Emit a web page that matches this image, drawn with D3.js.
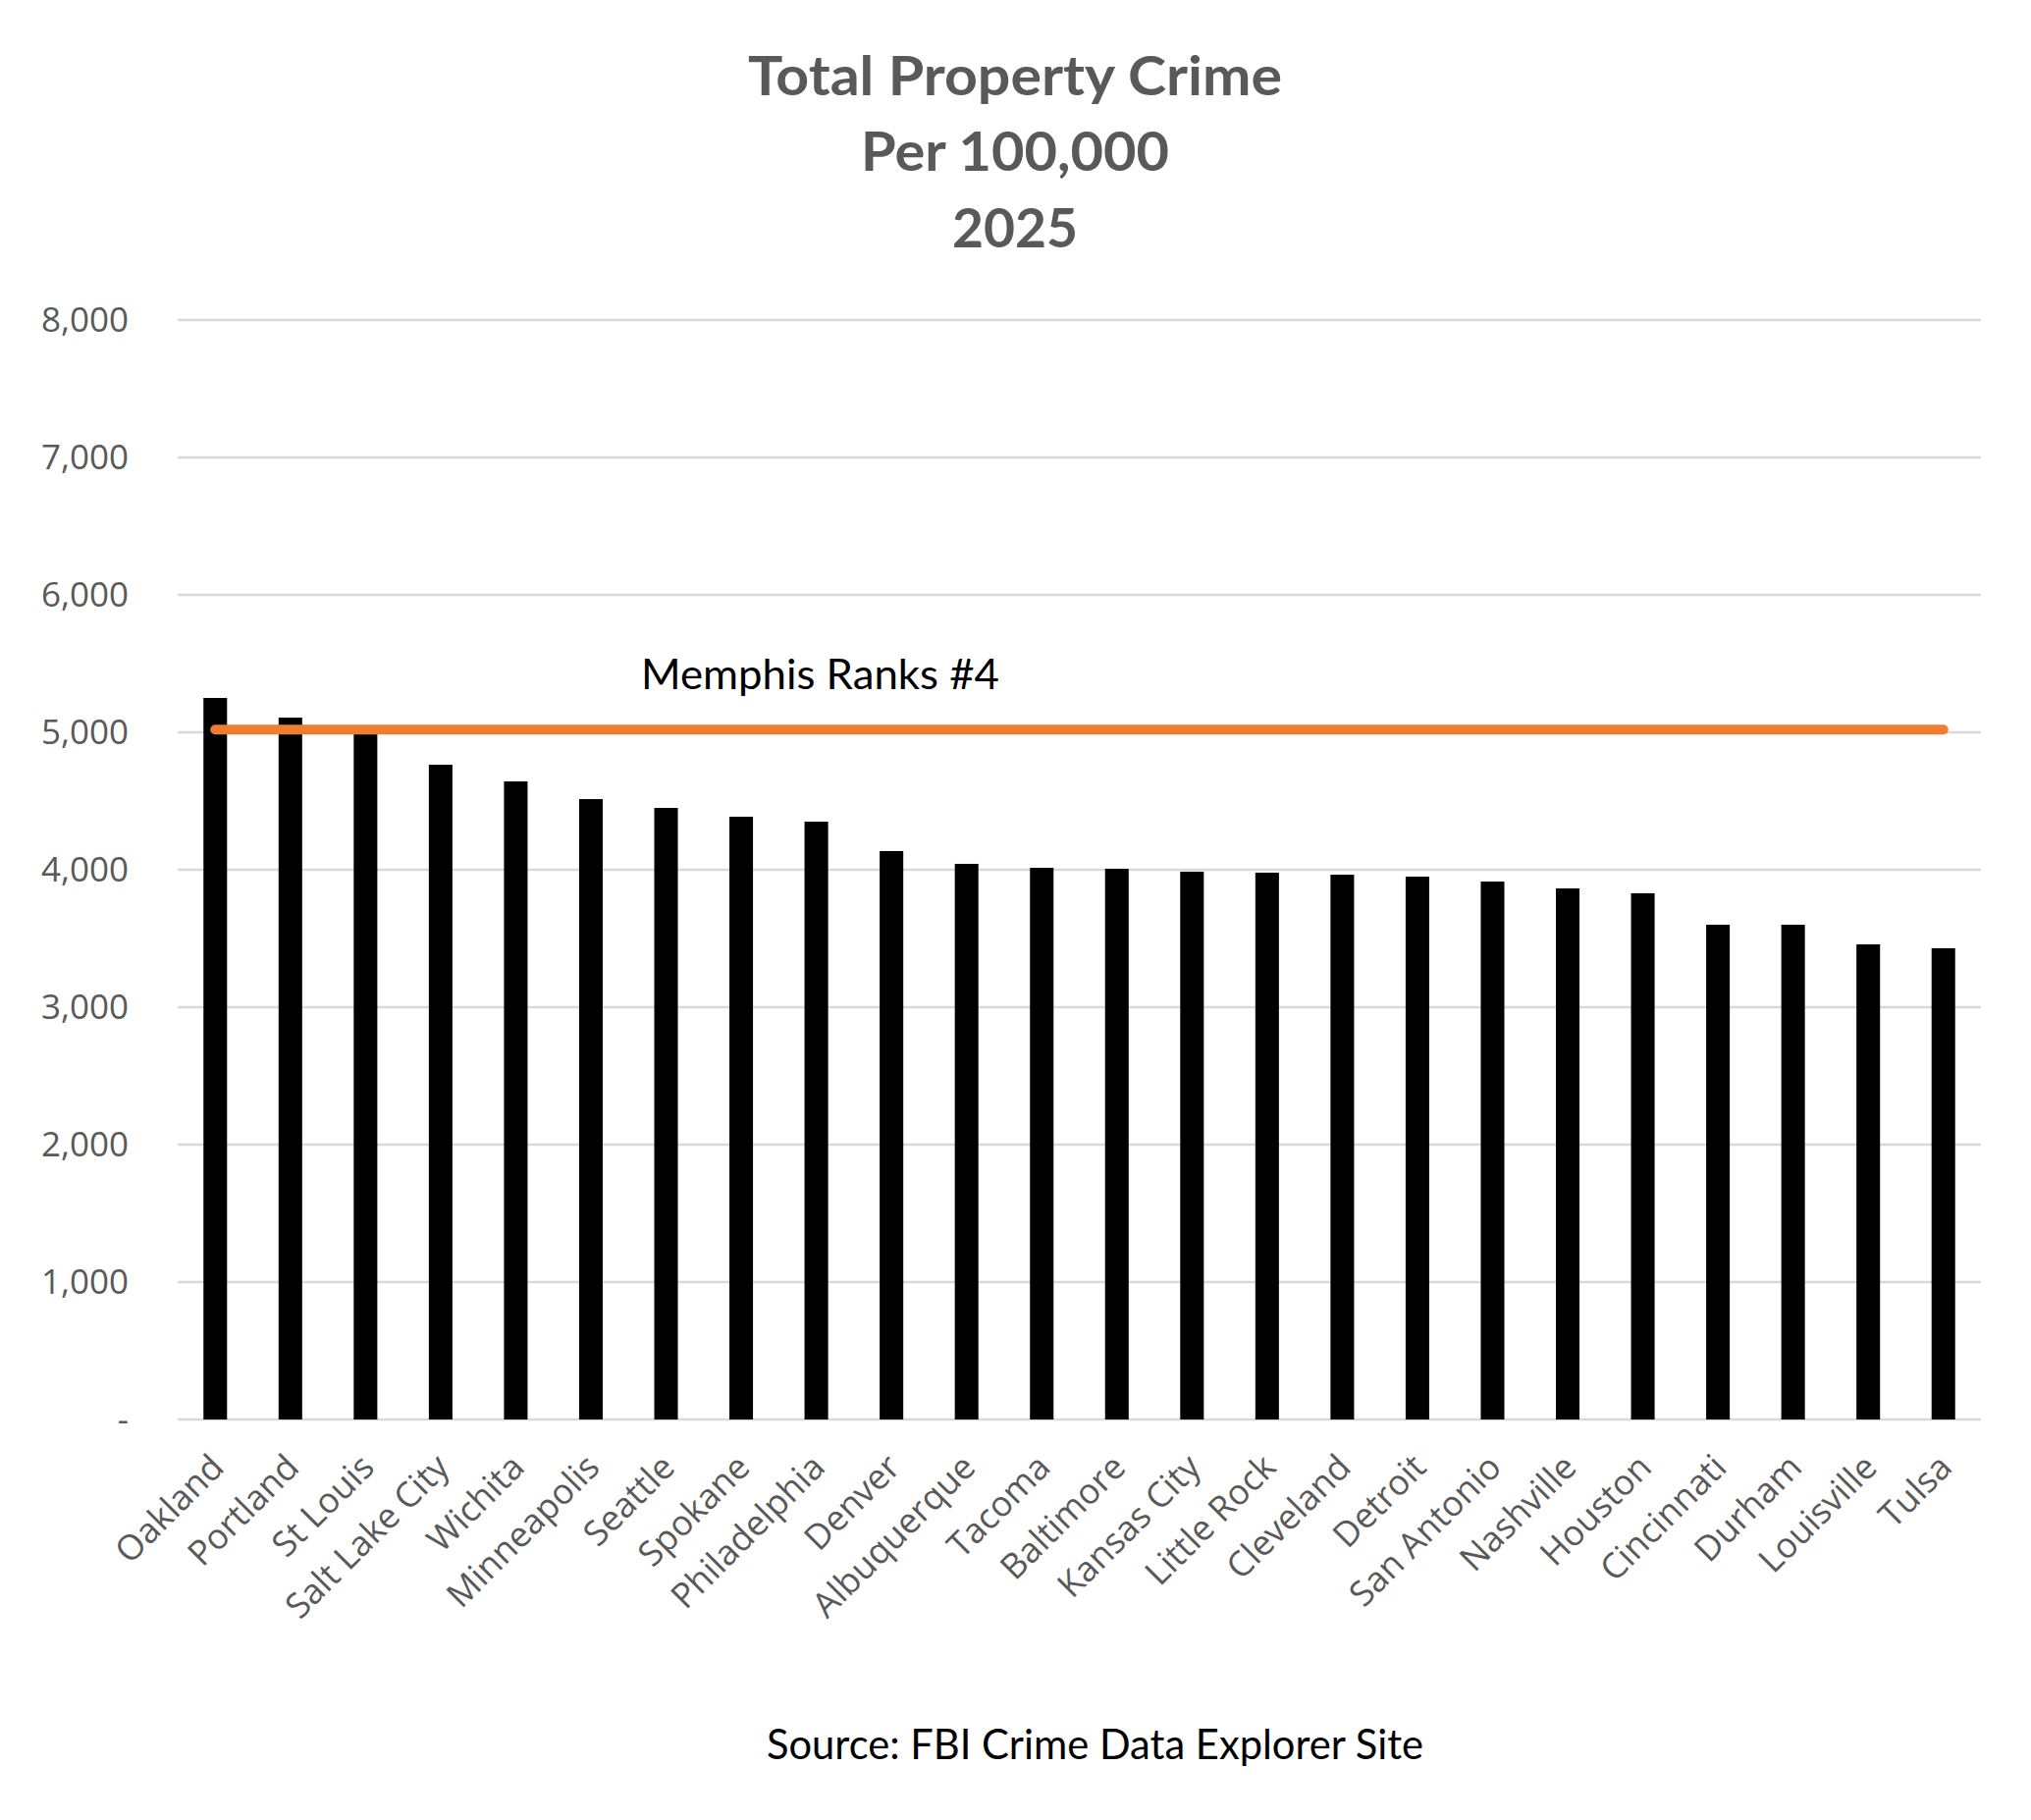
<!DOCTYPE html>
<html>
<head>
<meta charset="utf-8">
<script src="https://cdn.jsdelivr.net/npm/d3@7"></script>
<style>
  html, body { margin: 0; padding: 0; background: #ffffff; }
  svg { display: block; }
</style>
</head>
<body>
<svg id="chart" width="2069" height="1854"></svg>
<script>
// ---- data ----
const cities = ["Oakland","Portland","St Louis","Salt Lake City","Wichita","Minneapolis","Seattle","Spokane","Philadelphia","Denver","Albuquerque","Tacoma","Baltimore","Kansas City","Little Rock","Cleveland","Detroit","San Antonio","Nashville","Houston","Cincinnati","Durham","Louisville","Tulsa"];
const crimeRates = [5250,5107,5040,4764,4643,4514,4450,4386,4350,4136,4043,4014,4007,3986,3979,3964,3950,3914,3864,3829,3600,3600,3457,3429];
const memphisRate = 5020;
const yTicks = [0,1000,2000,3000,4000,5000,6000,7000,8000];
const titleLines = ["Total Property Crime","Per 100,000","2025"];
const annotation = "Memphis Ranks #4";
const sourceText = "Source: FBI Crime Data Explorer Site";

// ---- layout ----
const svg = d3.select("#chart");
const plot = {left: 181, right: 2018, top: 326, bottom: 1446};

const x = d3.scaleBand()
  .domain(cities)
  .range([plot.left, plot.right])
  .paddingInner(0.686)
  .paddingOuter(0.343);

const y = d3.scaleLinear()
  .domain([0, 8000])
  .range([plot.bottom, plot.top]);

const gray = "#595959";

// title
const titleFont = "Lato, 'Open Sans', sans-serif";
const titleWidths = [544, 314, 128];
const titleBase = [97, 174, 252];
svg.append("g").selectAll("text")
  .data(titleLines)
  .join("text")
  .attr("x", 1034)
  .attr("y", (d, i) => titleBase[i])
  .attr("text-anchor", "middle")
  .attr("font-family", titleFont)
  .attr("font-weight", "bold")
  .attr("font-size", 56)
  .attr("fill", gray)
  .attr("textLength", (d, i) => titleWidths[i])
  .attr("lengthAdjust", "spacingAndGlyphs")
  .text(d => d);

// gridlines
svg.append("g").selectAll("line")
  .data(yTicks)
  .join("line")
  .attr("x1", plot.left)
  .attr("x2", plot.right)
  .attr("y1", d => y(d))
  .attr("y2", d => y(d))
  .attr("stroke", "#d9d9d9")
  .attr("stroke-width", 2.5);

// y axis labels
const fmt = d3.format(",");
svg.append("g").selectAll("text")
  .data(yTicks)
  .join("text")
  .attr("x", 131)
  .attr("y", d => y(d))
  .attr("dy", "0.35em")
  .attr("text-anchor", "end")
  .attr("font-family", "'Open Sans', sans-serif")
  .attr("font-size", 35)
  .attr("fill", gray)
  .text(d => d === 0 ? "-" : fmt(d));

// bars
svg.append("g").selectAll("rect")
  .data(cities)
  .join("rect")
  .attr("x", d => x(d))
  .attr("width", x.bandwidth())
  .attr("y", (d, i) => y(crimeRates[i]))
  .attr("height", (d, i) => y(0) - y(crimeRates[i]))
  .attr("fill", "#000000");

// Memphis line
const line = d3.line()
  .x(d => x(d) + x.bandwidth() / 2)
  .y(() => y(memphisRate));
svg.append("path")
  .datum(cities)
  .attr("d", line)
  .attr("fill", "none")
  .attr("stroke", "#ED7D31")
  .attr("stroke-width", 10)
  .attr("stroke-linecap", "round");

// annotation
svg.append("text")
  .attr("x", 653)
  .attr("y", 702)
  .attr("font-family", titleFont)
  .attr("font-size", 42)
  .attr("fill", "#000000")
  .attr("textLength", 365)
  .attr("lengthAdjust", "spacingAndGlyphs")
  .text(annotation);

// x labels
svg.append("g").selectAll("text")
  .data(cities)
  .join("text")
  .attr("transform", d => `translate(${x(d) + x.bandwidth() / 2 + 2},${plot.bottom + 42}) rotate(-45)`)
  .attr("text-anchor", "end")
  .attr("dy", "0.35em")
  .attr("font-family", "'Open Sans', sans-serif")
  .attr("font-size", 35.5)
  .attr("fill", gray)
  .text(d => d);

// source
svg.append("text")
  .attr("x", 781)
  .attr("y", 1792)
  .attr("font-family", titleFont)
  .attr("font-size", 42)
  .attr("fill", "#000000")
  .attr("textLength", 669)
  .attr("lengthAdjust", "spacingAndGlyphs")
  .text(sourceText);
</script>
</body>
</html>
